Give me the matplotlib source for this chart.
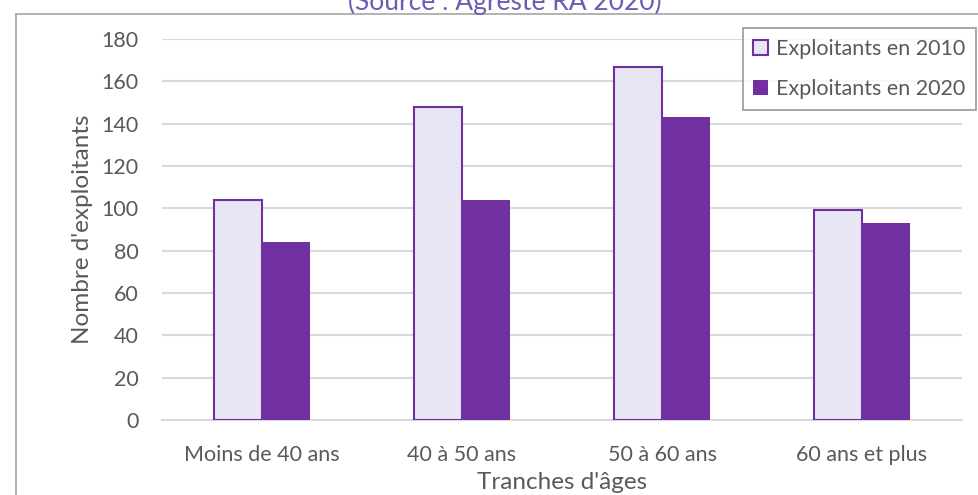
import numpy as np
import matplotlib.pyplot as plt
from matplotlib.lines import Line2D

plt.rcParams['font.family'] = ['Lato', 'DejaVu Sans']

categories = ['Moins de 40 ans', '40 à 50 ans', '50 à 60 ans', '60 ans et plus']
exploitants_2010 = [104, 148, 167, 99]
exploitants_2020 = [84, 104, 143, 93]

violet = '#7030A0'
clair = '#E8E6F3'
gris = '#595959'

fig = plt.figure(figsize=(9.79, 4.95), dpi=100)
ax = fig.add_axes([162 / 979, 1 - 420 / 495, 800 / 979, 381 / 495])

x = np.arange(len(categories))
w = 0.24
ax.bar(x - w / 2, exploitants_2010, w, color=clair, edgecolor=violet, linewidth=1.5,
       label='Exploitants en 2010', zorder=3)
ax.bar(x + w / 2, exploitants_2020, w, color=violet, edgecolor=violet, linewidth=0,
       label='Exploitants en 2020', zorder=3)

ax.set_xlim(-0.5, len(categories) - 0.5)
ax.set_ylim(0, 180)
ax.set_yticks(range(0, 181, 20))
ax.set_xticks(x)
ax.set_xticklabels(categories)
ax.tick_params(axis='both', length=0, labelsize=15.5, labelcolor=gris)
ax.tick_params(axis='x', pad=18)
ax.tick_params(axis='y', pad=17)
ax.yaxis.grid(True, color='#D9D9D9', linewidth=1.5, zorder=0)
for s in ['top', 'right', 'left']:
    ax.spines[s].set_visible(False)
ax.spines['bottom'].set_color('#D9D9D9')
ax.spines['bottom'].set_linewidth(1.5)

ax.set_xlabel("Tranches d'âges", fontsize=17.5, color=gris, labelpad=5)
ax.set_ylabel("Nombre d'exploitants", fontsize=17.5, color=gris, labelpad=6)

leg = ax.legend(loc='upper right', bbox_to_anchor=(1.0175, 1.029), fontsize=15.5,
                frameon=True, fancybox=False, handlelength=0.7, handleheight=0.7,
                handletextpad=0.35, borderpad=0.5, labelspacing=0.95,
                borderaxespad=0)
leg.get_frame().set_edgecolor('#808080')
leg.get_frame().set_linewidth(1.2)
for t in leg.get_texts():
    t.set_color(gris)

# bordure du cadre et titre tronqué
fig.add_artist(Line2D([16 / 979, 1], [1 - 14 / 495, 1 - 14 / 495], color='#A6A6A6', linewidth=1.2))
fig.add_artist(Line2D([16 / 979, 16 / 979], [0, 1 - 14 / 495], color='#A6A6A6', linewidth=1.2))
fig.text(505 / 979, 1 - 10 / 495, '(Source : Agreste RA 2020)', ha='center', va='baseline',
         fontsize=19, color='#6A5DB5')

fig.savefig('out.png', dpi=100)
